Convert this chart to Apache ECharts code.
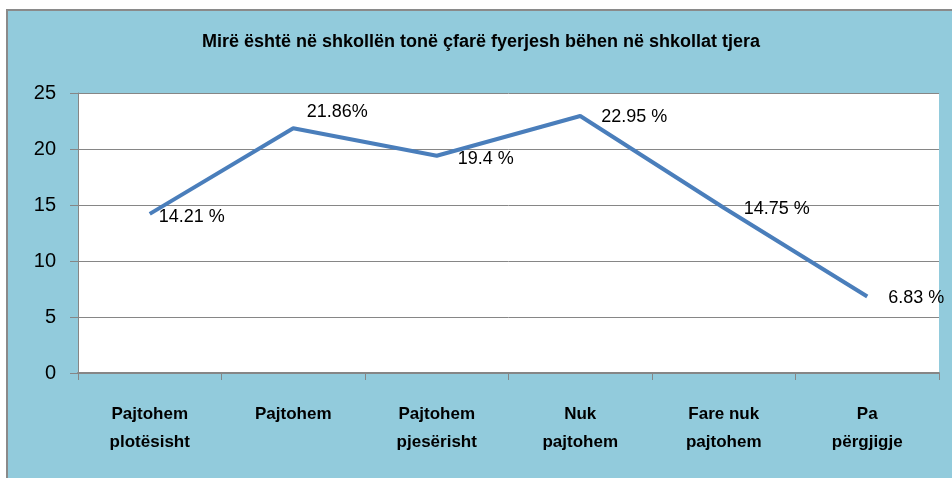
<!DOCTYPE html>
<html>
<head>
<meta charset="utf-8">
<script src="https://cdn.jsdelivr.net/npm/echarts@6/dist/echarts.min.js"></script>
<style>
  html, body { margin: 0; padding: 0; background: #fff; overflow: hidden; }
  .frame {
    position: absolute; left: 6px; top: 9px; width: 960px; height: 480px;
    border-left: 2px solid #8a8a8a; border-top: 2px solid #8a8a8a;
    background: #92cbdc;
  }
  #chart { position: absolute; left: 0; top: 0; width: 952px; height: 478px; }
</style>
</head>
<body>
<div class="frame"></div>
<div id="chart"></div>
<script>
// kategoritë dhe vlerat (%)
const categories = [
  'Pajtohem\nplotësisht',
  'Pajtohem',
  'Pajtohem\npjesërisht',
  'Nuk\npajtohem',
  'Fare nuk\npajtohem',
  'Pa\npërgjigje'
]
const values = [14.21, 21.86, 19.4, 22.95, 14.75, 6.83]
const labels = ['14.21 %', '21.86%', '19.4 %', '22.95 %', '14.75 %', '6.83 %']
const yTicks = [0, 5, 10, 15, 20, 25]

// pozicioni i etiketave pranë pikave
const labelOffsets = [[42, 3], [44, -16], [49, 3], [54, 1], [53, 1], [49, 2]]

const chart = echarts.init(document.getElementById('chart'))

const option = {
  backgroundColor: 'transparent',
  animation: false,
  title: {
    text: 'Mirë është në shkollën tonë çfarë fyerjesh bëhen në shkollat tjera',
    left: 476,
    textAlign: 'center',
    top: 28,
    textStyle: {
      fontFamily: 'Liberation Sans, sans-serif',
      fontSize: 18,
      fontWeight: 'bold',
      color: '#000'
    }
  },
  grid: {
    left: 78,
    top: 93,
    width: 861,
    height: 280,
    show: true,
    backgroundColor: '#fff',
    borderWidth: 0
  },
  xAxis: {
    type: 'category',
    data: categories,
    boundaryGap: true,
    axisLine: { lineStyle: { color: '#868686', width: 2 } },
    axisTick: { show: true, length: 7, lineStyle: { color: '#868686', width: 1 } },
    axisLabel: {
      margin: 27,
      lineHeight: 28,
      fontSize: 17,
      fontWeight: 'bold',
      fontFamily: 'Liberation Sans, sans-serif',
      color: '#000',
      interval: 0
    }
  },
  yAxis: {
    type: 'value',
    min: yTicks[0],
    max: yTicks[yTicks.length - 1],
    interval: 5,
    axisLine: { show: true, lineStyle: { color: '#868686', width: 1 } },
    axisTick: { show: true, length: 8, lineStyle: { color: '#868686' } },
    splitLine: { lineStyle: { color: '#868686', width: 1 } },
    axisLabel: {
      margin: 22,
      fontSize: 20,
      fontFamily: 'Liberation Sans, sans-serif',
      color: '#000'
    }
  },
  series: [
    {
      type: 'line',
      data: values.map((v, i) => ({
        value: v,
        label: {
          show: true,
          formatter: labels[i],
          position: 'inside',
          offset: labelOffsets[i]
        }
      })),
      symbol: 'circle',
      symbolSize: 2,
      showSymbol: true,
      itemStyle: { color: 'rgba(74,126,187,0)' },
      lineStyle: { color: '#4a7ebb', width: 4 },
      label: {
        show: true,
        fontSize: 18,
        fontFamily: 'Liberation Sans, sans-serif',
        color: '#000'
      }
    }
  ]
}

chart.setOption(option)
</script>
</body>
</html>
